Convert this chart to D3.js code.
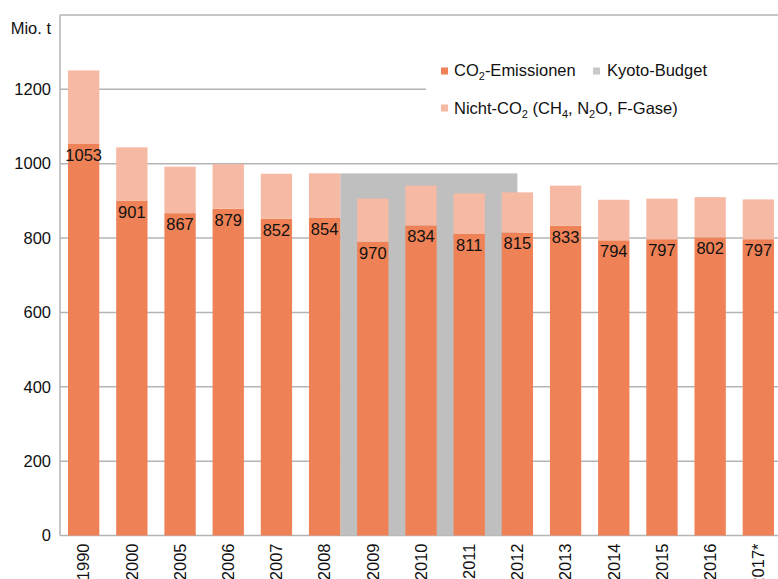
<!DOCTYPE html>
<html>
<head>
<meta charset="utf-8">
<script src="https://cdn.jsdelivr.net/npm/d3@7"></script>
<style>
  body { margin: 0; background: #fff; }
  svg { font-family: "Liberation Sans", Arial, sans-serif; }
</style>
</head>
<body>
<svg id="chart" width="778" height="579"></svg>
<script>
const years = ["1990","2000","2005","2006","2007","2008","2009","2010","2011","2012","2013","2014","2015","2016","2017*"];
const co2 = [1053, 901, 867, 879, 852, 854, 790, 834, 811, 815, 833, 794, 797, 802, 797];
const co2Labels = ["1053","901","867","879","852","854","970","834","811","815","833","794","797","802","797"];
const nonCo2 = [198, 143, 125, 120, 121, 120, 116, 107, 109, 108, 108, 109, 109, 108, 107];
const kyotoBudget = 974;
const kyotoStart = "2008";
const kyotoEnd = "2012";
const yTicks = [0, 200, 400, 600, 800, 1000, 1200];

const colCO2 = "#EE8156", colNon = "#F6B9A3", colKyoto = "#BFBFBF", colGrid = "#B4B4B4";
const FONT = "Liberation Sans, Arial, sans-serif";
const FS = 16.5;

const svg = d3.select("#chart");
const x = d3.scaleBand().domain(years).range([60, 782]).paddingInner(0.35).paddingOuter(0.166);
const y = d3.scaleLinear().domain([0, 1400]).range([535.5, 15]);

// gridlines
svg.append("g").selectAll("line").data(yTicks.concat([1400])).join("line")
  .attr("x1", 60).attr("x2", 778)
  .attr("y1", d => y(d)).attr("y2", d => y(d))
  .attr("stroke", colGrid).attr("stroke-width", 1.5);

// Kyoto budget area
svg.append("rect")
  .attr("x", x(kyotoStart) + x.bandwidth())
  .attr("y", y(kyotoBudget))
  .attr("width", (x(kyotoEnd) + x.bandwidth() / 2) - (x(kyotoStart) + x.bandwidth()))
  .attr("height", y(0) - y(kyotoBudget))
  .attr("fill", colKyoto);

const data = years.map((yr, i) => ({ yr, co2: co2[i], non: nonCo2[i], label: co2Labels[i] }));

// CO2 bars
svg.append("g").selectAll("rect").data(data).join("rect")
  .attr("x", d => x(d.yr)).attr("width", x.bandwidth())
  .attr("y", d => y(d.co2)).attr("height", d => y(0) - y(d.co2))
  .attr("fill", colCO2);

// non-CO2 bars
svg.append("g").selectAll("rect").data(data).join("rect")
  .attr("x", d => x(d.yr)).attr("width", x.bandwidth())
  .attr("y", d => y(d.co2 + d.non)).attr("height", d => y(d.co2) - y(d.co2 + d.non))
  .attr("fill", colNon);

// value labels
svg.append("g").selectAll("text").data(data).join("text")
  .attr("x", d => x(d.yr) + x.bandwidth() / 2)
  .attr("y", d => y(d.co2) + 17)
  .attr("text-anchor", "middle")
  .attr("font-size", FS).attr("fill", "#111")
  .text(d => d.label);

// left axis line
svg.append("line").attr("x1", 60).attr("x2", 60).attr("y1", 15).attr("y2", y(0))
  .attr("stroke", colGrid).attr("stroke-width", 1.5);

// y tick labels
const yAxis = d3.axisLeft(y).tickValues(yTicks).tickFormat(d3.format("d")).tickSize(0).tickPadding(9);
const gy = svg.append("g").attr("transform", "translate(60,0)").call(yAxis);
gy.attr("font-family", FONT);
gy.select(".domain").remove();
gy.selectAll("text").attr("font-size", FS).attr("fill", "#111");

svg.append("text").attr("x", 51).attr("y", 34).attr("text-anchor", "end")
  .attr("font-size", FS).attr("fill", "#111").text("Mio. t");

// x tick labels
const xAxis = d3.axisBottom(x).tickSize(0).tickPadding(0);
const gx = svg.append("g").attr("transform", `translate(0,${y(0)})`).call(xAxis);
gx.attr("font-family", FONT);
gx.select(".domain").remove();
gx.selectAll("text")
  .attr("font-size", FS).attr("fill", "#111")
  .attr("text-anchor", "end")
  .attr("transform", "rotate(-90)")
  .attr("x", -8).attr("y", 0).attr("dy", "0.35em");

// legend
svg.append("rect").attr("x", 426).attr("y", 50).attr("width", 352).attr("height", 80).attr("fill", "#fff");
const leg = svg.append("g").attr("font-size", FS).attr("fill", "#111");
leg.append("rect").attr("x", 441).attr("y", 67.5).attr("width", 7).attr("height", 7).attr("fill", colCO2);
const t1 = leg.append("text").attr("x", 454).attr("y", 76);
t1.append("tspan").text("CO");
t1.append("tspan").attr("font-size", 11).attr("dy", 4).text("2");
t1.append("tspan").attr("dy", -4).text("-Emissionen");

leg.append("rect").attr("x", 593).attr("y", 67.5).attr("width", 7).attr("height", 7).attr("fill", "#C8C8C8");
leg.append("text").attr("x", 607).attr("y", 76).text("Kyoto-Budget");

leg.append("rect").attr("x", 441).attr("y", 104.5).attr("width", 7).attr("height", 7).attr("fill", colNon);
const t2 = leg.append("text").attr("x", 454).attr("y", 114);
t2.append("tspan").text("Nicht-CO");
t2.append("tspan").attr("font-size", 11).attr("dy", 4).text("2");
t2.append("tspan").attr("dy", -4).text(" (CH");
t2.append("tspan").attr("font-size", 11).attr("dy", 4).text("4");
t2.append("tspan").attr("dy", -4).text(", N");
t2.append("tspan").attr("font-size", 11).attr("dy", 4).text("2");
t2.append("tspan").attr("dy", -4).text("O, F-Gase)");
</script>
</body>
</html>
